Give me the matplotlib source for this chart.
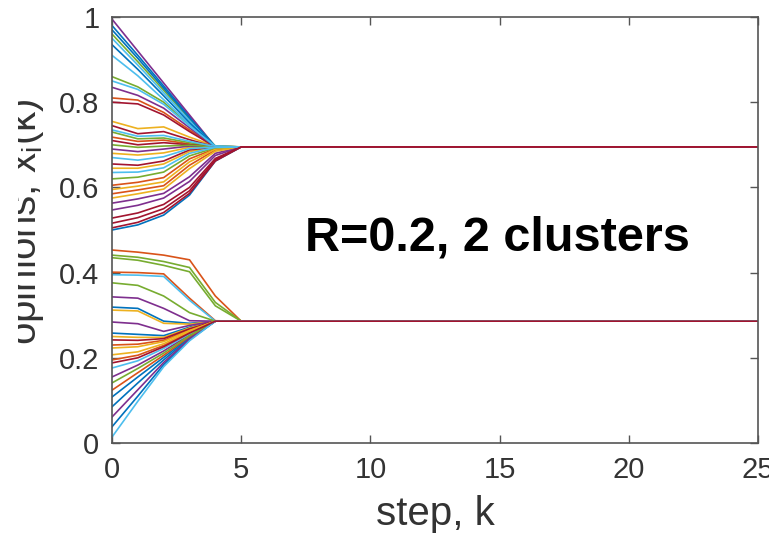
import matplotlib
matplotlib.use("Agg")
import matplotlib.pyplot as plt
from matplotlib.patches import Rectangle

plt.rcParams['font.family'] = ['Liberation Sans', 'DejaVu Sans']
plt.rcParams['mathtext.fontset'] = 'custom'
plt.rcParams['mathtext.rm'] = 'Liberation Sans'
plt.rcParams['mathtext.it'] = 'Liberation Sans'

# Hegselmann-Krause opinion dynamics, confidence radius R = 0.2.
# Each row: opinion of one agent at steps k = 0..5 (constant afterwards).
steps = [0, 1, 2, 3, 4, 5]
last_step = 25
opinions = [
    [0.980, 0.910, 0.838, 0.766, 0.695, 0.695],
    [0.810, 0.805, 0.776, 0.735, 0.697, 0.695],
    [0.755, 0.738, 0.742, 0.718, 0.697, 0.695],
    [0.995, 0.920, 0.845, 0.770, 0.695, 0.695],
    [0.960, 0.895, 0.828, 0.760, 0.697, 0.695],
    [0.950, 0.887, 0.822, 0.757, 0.696, 0.695],
    [0.800, 0.796, 0.770, 0.731, 0.695, 0.695],

    [0.970, 0.903, 0.833, 0.763, 0.696, 0.695],
    [0.718, 0.708, 0.711, 0.702, 0.695, 0.695],
    [0.680, 0.676, 0.681, 0.694, 0.695, 0.695],
    [0.835, 0.816, 0.786, 0.740, 0.695, 0.695],
    [0.860, 0.836, 0.800, 0.746, 0.696, 0.695],
    [0.910, 0.862, 0.806, 0.748, 0.695, 0.695],
    [0.745, 0.726, 0.731, 0.712, 0.695, 0.695],

    [0.935, 0.877, 0.815, 0.752, 0.695, 0.695],
    [0.605, 0.612, 0.623, 0.667, 0.691, 0.695],
    [0.645, 0.645, 0.655, 0.684, 0.695, 0.695],
    [0.690, 0.684, 0.690, 0.697, 0.695, 0.695],
    [0.730, 0.714, 0.716, 0.705, 0.695, 0.695],
    [0.850, 0.830, 0.795, 0.744, 0.697, 0.695],
    [0.710, 0.700, 0.705, 0.700, 0.695, 0.695],

    [0.500, 0.512, 0.535, 0.582, 0.662, 0.695],
    [0.585, 0.594, 0.604, 0.652, 0.688, 0.695],
    [0.595, 0.603, 0.613, 0.660, 0.690, 0.695],
    [0.563, 0.573, 0.586, 0.625, 0.680, 0.695],
    [0.700, 0.694, 0.697, 0.699, 0.695, 0.695],
    [0.735, 0.720, 0.722, 0.708, 0.696, 0.695],
    [0.655, 0.652, 0.662, 0.688, 0.695, 0.695],

    [0.319, 0.316, 0.286, 0.281, 0.286, 0.286],
    [0.453, 0.448, 0.441, 0.430, 0.345, 0.286],
    [0.575, 0.585, 0.596, 0.644, 0.685, 0.695],
    [0.547, 0.558, 0.575, 0.614, 0.675, 0.695],
    [0.620, 0.624, 0.636, 0.674, 0.693, 0.695],
    [0.670, 0.664, 0.672, 0.691, 0.695, 0.695],
    [0.528, 0.540, 0.560, 0.600, 0.668, 0.695],

    [0.258, 0.255, 0.252, 0.272, 0.286, 0.286],
    [0.401, 0.400, 0.397, 0.340, 0.287, 0.286],
    [0.312, 0.310, 0.281, 0.279, 0.286, 0.286],
    [0.343, 0.340, 0.316, 0.287, 0.286, 0.286],
    [0.441, 0.436, 0.426, 0.412, 0.330, 0.286],
    [0.635, 0.636, 0.646, 0.680, 0.694, 0.695],
    [0.516, 0.529, 0.550, 0.592, 0.665, 0.695],

    [0.108, 0.155, 0.201, 0.248, 0.286, 0.286],
    [0.230, 0.232, 0.241, 0.266, 0.286, 0.286],
    [0.250, 0.248, 0.248, 0.270, 0.286, 0.286],
    [0.284, 0.280, 0.262, 0.276, 0.286, 0.286],
    [0.435, 0.429, 0.417, 0.402, 0.322, 0.286],
    [0.395, 0.394, 0.391, 0.335, 0.286, 0.286],
    [0.242, 0.241, 0.245, 0.268, 0.286, 0.286],

    [0.085, 0.141, 0.195, 0.246, 0.286, 0.286],
    [0.195, 0.206, 0.229, 0.260, 0.286, 0.286],
    [0.223, 0.226, 0.238, 0.264, 0.286, 0.286],
    [0.155, 0.183, 0.216, 0.254, 0.286, 0.286],
    [0.376, 0.370, 0.345, 0.306, 0.286, 0.286],
    [0.176, 0.193, 0.222, 0.256, 0.286, 0.286],
    [0.505, 0.518, 0.541, 0.586, 0.662, 0.695],

    [0.038, 0.110, 0.184, 0.242, 0.286, 0.286],
    [0.124, 0.165, 0.206, 0.250, 0.286, 0.286],
    [0.207, 0.214, 0.233, 0.262, 0.286, 0.286],
    [0.061, 0.125, 0.189, 0.244, 0.286, 0.286],
    [0.141, 0.175, 0.211, 0.252, 0.286, 0.286],
    [0.014, 0.098, 0.179, 0.240, 0.286, 0.286],
    [0.188, 0.200, 0.226, 0.258, 0.286, 0.286],
]

x_ticks = [0, 5, 10, 15, 20, 25]
y_ticks = [0, 0.2, 0.4, 0.6, 0.8, 1]
y_tick_labels = ['0', '0.2', '0.4', '0.6', '0.8', '1']
annotation = 'R=0.2, 2 clusters'

# MATLAB default line colour order
palette = ['#0072BD', '#D95319', '#EDB120', '#7E2F8E',
           '#77AC30', '#4DBEEE', '#A2142F']

W, H, DPI = 769, 533, 100
fig = plt.figure(figsize=(W / DPI, H / DPI), dpi=DPI)
ax = fig.add_axes([112 / W, (H - 443) / H, (758 - 112) / W, (443 - 17) / H])

x_full = steps + [last_step]
for i, row in enumerate(opinions):
    ax.plot(x_full, row + [row[-1]], color=palette[i % len(palette)],
            lw=1.2, solid_joinstyle='miter')

axis_col = '#555555'
ax.set_xlim(0, 25)
ax.set_ylim(0, 1)
ax.set_xticks(x_ticks)
ax.set_yticks(y_ticks)
ax.set_yticklabels(y_tick_labels)
ax.tick_params(direction='in', length=6, width=1, color=axis_col,
               labelcolor='#333333', labelsize=21, pad=9,
               top=True, right=True)
for s in ax.spines.values():
    s.set_color(axis_col)
    s.set_linewidth(1.2)

ax.set_xlabel('step, k', fontsize=29, color='#333333')
ax.xaxis.set_label_coords(0.5, -0.121)
ax.set_ylabel(r'opinions, x$_\mathrm{i}$(k)', fontsize=29, color='#333333')
ax.yaxis.set_label_coords((46 - 112) / 646, 0.52)

ax.text((305 - 112) / 646, (443 - 250) / 426, annotation,
        transform=ax.transAxes, ha='left', va='baseline',
        fontsize=35, fontweight='bold', color='black')

# blank margin strip along the left edge
fig.add_artist(Rectangle((0, 0), 18 / W, 1, transform=fig.transFigure,
                         facecolor='white', edgecolor='none', zorder=10))

fig.savefig('out.png', dpi=DPI)
